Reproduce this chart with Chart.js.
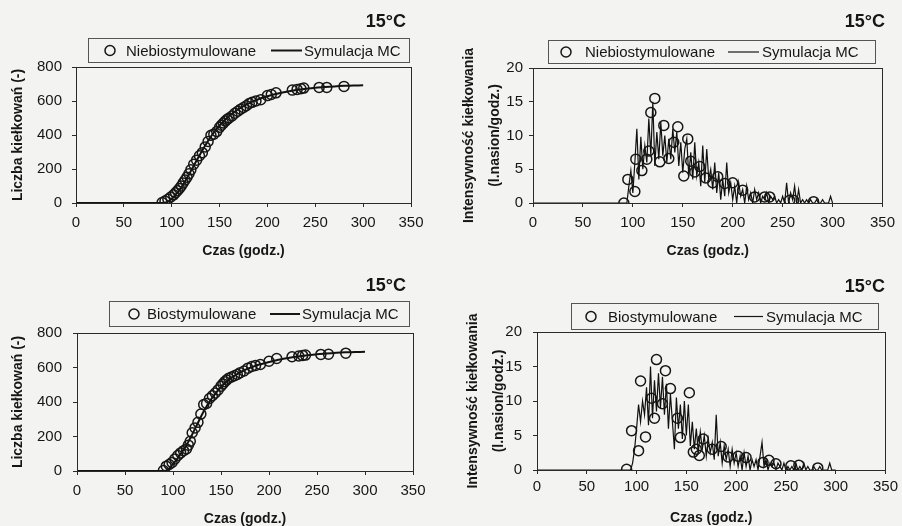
<!DOCTYPE html>
<html>
<head>
<meta charset="utf-8">
<script src="https://cdn.jsdelivr.net/npm/chart.js@4.4.1/dist/chart.umd.min.js"></script>
<style>
  html, body { margin: 0; padding: 0; background: #f3f3f1; }
  #wrap { position: relative; width: 902px; height: 526px; overflow: hidden; }
  .panel { position: absolute; width: 451px; height: 263px; }
</style>
</head>
<body>
<div id="wrap">
  <div class="panel" style="left:0;top:0"><canvas id="c1" width="451" height="263"></canvas></div>
  <div class="panel" style="left:451px;top:0"><canvas id="c2" width="451" height="263"></canvas></div>
  <div class="panel" style="left:0;top:263px"><canvas id="c3" width="451" height="263"></canvas></div>
  <div class="panel" style="left:451px;top:263px"><canvas id="c4" width="451" height="263"></canvas></div>
</div>
<script>
// ---- data ----
const xTicks = [0, 50, 100, 150, 200, 250, 300, 350];

// cumulative germination, observed
const obsNieTimes = [90, 93, 96, 99, 102, 104, 106, 108, 110, 112, 114, 116, 118, 120, 123, 126, 129, 132, 135, 138,
  141, 144, 147, 150, 152, 154, 156, 158, 160, 163, 166, 169, 172, 175, 178, 181, 184, 188, 193, 200,
  204, 209, 226, 231, 235, 238, 254, 262, 280];
const obsNieCount = [3, 12, 22, 35, 48, 60, 72, 85, 100, 118, 135, 152, 172, 195, 228, 252, 278, 296, 330, 362,
  398, 405, 420, 445, 458, 470, 482, 492, 500, 512, 528, 540, 552, 562, 572, 585, 592, 600, 608, 632,
  638, 648, 664, 668, 672, 676, 680, 680, 686];
const obsBioTimes = [90, 93, 96, 99, 102, 105, 108, 111, 114, 116, 118, 120, 123, 126, 129, 132, 135, 138, 141, 144,
  147, 150, 152, 154, 156, 158, 161, 164, 167, 170, 174, 178, 182, 186, 191, 200, 208, 224, 231, 235,
  238, 254, 262, 280];
const obsBioCount = [3, 28, 38, 50, 70, 90, 105, 118, 128, 150, 172, 222, 250, 282, 330, 385, 392, 420, 436, 452,
  470, 492, 505, 518, 528, 538, 545, 552, 560, 570, 580, 596, 606, 612, 618, 636, 652, 662, 667, 670,
  672, 676, 677, 683];

// cumulative germination, MC simulation
const mcCumTimes = [0, 90, 95, 100, 105, 110, 115, 120, 125, 130, 135, 140, 145, 150, 155, 160, 165, 170, 175, 180,
  185, 190, 195, 200, 210, 220, 230, 240, 250, 260, 270, 280, 290, 300];
const mcCumNie = [0, 0, 5, 25, 55, 92, 138, 188, 240, 290, 338, 383, 422, 456, 486, 512, 534, 553, 570, 585,
  598, 609, 619, 628, 643, 655, 665, 672, 678, 682, 686, 689, 691, 692];
const mcCumBio = [0, 0, 10, 40, 75, 115, 160, 212, 268, 325, 375, 418, 455, 487, 514, 537, 556, 572, 586, 598,
  608, 617, 625, 632, 645, 655, 664, 671, 677, 681, 685, 688, 690, 691];

// germination rate, observed
const obsNieRateTimes = [91, 95, 102, 103, 109, 114, 116, 118, 122, 127, 131, 136, 141, 145, 151, 155, 158, 162, 167, 173,
  180, 185, 192, 200, 210, 222, 232, 237, 257, 261, 281];
const obsNieRate = [0, 3.5, 1.7, 6.5, 4.8, 6.5, 7.7, 13.4, 15.5, 6.1, 11.5, 6.6, 9.0, 11.3, 4.0, 9.5, 6.2, 4.6, 5.4, 3.7,
  3.0, 3.9, 2.9, 3.0, 1.9, 0.9, 0.9, 0.9, 0.4, 0.4, 0.2];
const obsBioRateTimes = [90, 95, 102, 104, 109, 115, 118, 120, 126, 129, 134, 141, 144, 153, 157, 160, 163, 167, 176, 185,
  192, 202, 210, 227, 233, 240, 255, 263, 282];
const obsBioRate = [0.1, 5.7, 2.8, 12.9, 4.8, 10.4, 7.5, 16.0, 9.6, 14.4, 11.8, 7.5, 4.7, 11.2, 2.6, 3.0, 2.1, 4.5, 3.0, 3.4,
  1.9, 2.0, 1.8, 1.1, 1.4, 0.9, 0.6, 0.7, 0.3];

// germination rate, MC simulation
const mcRateTimes = [0,
  90, 92, 94, 96, 98, 100, 102, 104, 106, 108,
  110, 112, 114, 116, 118, 120, 122, 124, 126, 128,
  130, 132, 134, 136, 138, 140, 142, 144, 146, 148,
  150, 152, 154, 156, 158, 160, 162, 164, 166, 168,
  170, 172, 174, 176, 178, 180, 182, 184, 186, 188,
  190, 192, 194, 196, 198, 200, 202, 204, 206, 208,
  210, 212, 214, 216, 218, 220, 222, 224, 226, 228,
  230, 232, 234, 236, 238, 240, 242, 244, 246, 248,
  250, 252, 254, 256, 258, 260, 262, 264, 266, 268,
  270, 272, 274, 276, 278, 280, 282, 284, 286, 288,
  290, 292, 294, 296, 298, 300];
const mcRateNie = [0,
  0, 0, 0, 2.5, 4.8, 1.5, 6.0, 11.0, 3.5, 9.8,
  5.0, 8.5, 6.0, 12.5, 7.0, 15.0, 5.5, 10.5, 6.5, 12.0,
  7.0, 10.0, 6.0, 9.5, 6.5, 11.0, 7.5, 10.5, 5.5, 9.0,
  4.5, 8.0, 9.5, 4.0, 7.5, 3.5, 9.0, 4.0, 6.0, 2.5,
  8.5, 3.0, 8.0, 3.5, 5.0, 2.0, 6.0, 1.5, 4.5, 0.5,
  3.5, 1.0, 6.0, 1.5, 3.0, 0.5, 2.5, 0.0, 3.0, 1.0,
  2.0, 0.0, 2.5, 0.5, 1.5, 0.0, 2.0, 0.5, 1.5, 0.0,
  1.0, 0.5, 1.5, 0.0, 1.0, 0.5, 1.0, 0.0, 0.5, 0.0,
  1.0, 0.0, 3.0, 0.0, 1.5, 0.5, 2.5, 0.0, 2.0, 0.0,
  0.5, 0.0, 0.5, 0.0, 0.5, 0.0, 0.0, 0.5, 0.0, 0.0,
  0.5, 0.0, 0.0, 0.0, 1.0, 0.0];
const mcRateBio = [0,
  0, 0, 0, 1.0, 3.0, 6.0, 9.5, 7.0, 10.0, 8.0,
  12.0, 6.5, 15.0, 7.5, 13.0, 8.5, 14.0, 9.0, 13.5, 8.0,
  12.5, 6.0, 11.0, 7.0, 3.0, 10.5, 6.0, 9.5, 4.5, 10.0,
  5.0, 9.5, 3.5, 7.0, 3.0, 6.0, 2.5, 5.5, 3.0, 5.0,
  2.0, 4.5, 2.5, 4.0, 1.5, 8.0, 2.0, 4.0, 1.0, 3.5,
  1.5, 3.0, 0.5, 3.0, 1.0, 2.5, 0.5, 2.0, 0.0, 2.5,
  0.5, 2.0, 0.0, 1.5, 0.5, 1.5, 0.0, 2.0, 4.0, 0.5,
  1.5, 0.0, 1.0, 0.5, 1.0, 0.0, 1.0, 0.5, 0.0, 1.0,
  0.0, 0.5, 0.0, 0.5, 0.0, 1.0, 0.0, 0.5, 0.0, 1.0,
  0.0, 0.5, 0.0, 0.0, 0.5, 0.0, 0.0, 0.5, 0.0, 0.0,
  0.0, 0.0, 1.0, 0.0, 0.0, 0.0];

const FONT = '"Liberation Sans", Arial, sans-serif';
const INK = '#161616';
const LINE = '#2a2a2a';

Chart.defaults.font.family = FONT;
Chart.defaults.color = INK;

function pts(xs, ys) {
  return xs.map((x, i) => ({ x: x, y: ys[i] }));
}

// frame around plot area, "15°C" label and boxed legend
const panelDecor = {
  id: 'panelDecor',
  afterDraw(chart, args, o) {
    const ctx = chart.ctx;
    const a = chart.chartArea;
    ctx.save();
    ctx.strokeStyle = LINE;
    ctx.lineWidth = 1;
    ctx.strokeRect(Math.round(a.left) + 0.5, Math.round(a.top) + 0.5,
      Math.round(a.right - a.left), Math.round(a.bottom - a.top));

    ctx.fillStyle = INK;
    ctx.font = 'bold 18px ' + FONT;
    ctx.textAlign = 'right';
    ctx.textBaseline = 'middle';
    ctx.fillText(o.title, o.titleRight, o.titleY);

    const L = o.legend;
    ctx.strokeStyle = '#555';
    ctx.strokeRect(L.x + 0.5, L.y + 0.5, L.w, L.h);
    const cy = L.y + L.h / 2 + 0.5;
    ctx.strokeStyle = INK;
    ctx.lineWidth = 1.5;
    ctx.beginPath();
    ctx.arc(L.circleX, cy, 5, 0, Math.PI * 2);
    ctx.stroke();
    ctx.font = '15px ' + FONT;
    ctx.textAlign = 'left';
    ctx.fillText(o.obsLabel, L.text1X, cy + 1);
    ctx.lineWidth = o.mcWidth;
    ctx.beginPath();
    ctx.moveTo(L.lineX0, cy);
    ctx.lineTo(L.lineX1, cy);
    ctx.stroke();
    ctx.fillText(o.mcLabel, L.text2X, cy + 1);
    ctx.restore();
  }
};

function makePanel(id, p) {
  const W = 451, H = 263;
  const ctx = document.getElementById(id).getContext('2d');
  return new Chart(ctx, {
    type: 'scatter',
    data: {
      datasets: [
        {
          label: p.obsLabel,
          data: pts(p.obsT, p.obsV),
          showLine: false,
          pointStyle: 'circle',
          pointRadius: 5,
          borderWidth: 1.5,
          borderColor: INK,
          backgroundColor: 'rgba(0,0,0,0)',
          order: 0
        },
        {
          label: 'Symulacja MC',
          data: pts(p.mcT, p.mcV),
          showLine: true,
          pointRadius: 0,
          borderWidth: p.mcWidth,
          borderColor: '#111',
          tension: p.tension,
          order: 1
        }
      ]
    },
    options: {
      responsive: false,
      animation: false,
      events: [],
      layout: {
        padding: { left: 0, top: p.area.top, right: W - p.area.right, bottom: 0 }
      },
      plugins: {
        legend: { display: false },
        tooltip: { enabled: false },
        panelDecor: {
          title: '15°C',
          titleRight: p.titleRight,
          titleY: p.titleY,
          obsLabel: p.obsLabel,
          mcLabel: 'Symulacja MC',
          mcWidth: p.mcWidth,
          legend: p.legend
        }
      },
      scales: {
        x: {
          type: 'linear',
          min: 0,
          max: 350,
          afterBuildTicks: (s) => { s.ticks = xTicks.map(v => ({ value: v })); },
          ticks: { font: { size: 15 }, padding: p.xTickPad, color: INK, maxRotation: 0 },
          grid: { drawOnChartArea: false, tickLength: 4, color: LINE },
          border: { color: LINE, width: 1 },
          title: {
            display: true,
            text: 'Czas (godz.)',
            font: { size: 14, weight: 'bold', lineHeight: 1 },
            padding: { top: 0, bottom: p.xTitlePad },
            color: INK
          },
          afterFit: (s) => { s.height = H - p.area.bottom; }
        },
        y: {
          min: 0,
          max: p.yMax,
          ticks: { stepSize: p.yStep, font: { size: 15 }, padding: p.yTickPad, color: INK },
          grid: { drawOnChartArea: false, tickLength: 4, color: LINE },
          border: { color: LINE, width: 1 },
          title: {
            display: true,
            text: p.yTitle,
            font: { size: 14, weight: 'bold', lineHeight: p.yTitleLH },
            padding: { top: p.yTitlePad, bottom: 0 },
            color: INK
          },
          afterFit: (s) => { s.width = p.area.left; }
        }
      }
    },
    plugins: [panelDecor]
  });
}

const yTitleCount = 'Liczba kiełkowań (-)';
const yTitleRate = ['Intensywność kiełkowania', '(l.nasion/godz.)'];

makePanel('c1', {
  obsT: obsNieTimes, obsV: obsNieCount, mcT: mcCumTimes, mcV: mcCumNie,
  obsLabel: 'Niebiostymulowane', mcWidth: 2, tension: 0.25,
  yMax: 800, yStep: 200, yTitle: yTitleCount, yTitleLH: 1.2, yTitlePad: 10,
  area: { left: 76, top: 67, right: 411, bottom: 203 },
  yTickPad: 10, xTickPad: 7, xTitlePad: 5,
  titleRight: 406, titleY: 22,
  legend: { x: 88, y: 38, w: 321, h: 24, circleX: 110, text1X: 126, lineX0: 271, lineX1: 302, text2X: 304 }
});

makePanel('c2', {
  obsT: obsNieRateTimes, obsV: obsNieRate, mcT: mcRateTimes, mcV: mcRateNie,
  obsLabel: 'Niebiostymulowane', mcWidth: 1.2, tension: 0,
  yMax: 20, yStep: 5, yTitle: yTitleRate, yTitleLH: 1.85, yTitlePad: 5,
  area: { left: 82, top: 68, right: 433, bottom: 203 },
  yTickPad: 6, xTickPad: 7, xTitlePad: 5,
  titleRight: 434, titleY: 22,
  legend: { x: 97, y: 40, w: 327, h: 23, circleX: 115, text1X: 134, lineX0: 277, lineX1: 308, text2X: 311 }
});

makePanel('c3', {
  obsT: obsBioTimes, obsV: obsBioCount, mcT: mcCumTimes, mcV: mcCumBio,
  obsLabel: 'Biostymulowane', mcWidth: 2, tension: 0.25,
  yMax: 800, yStep: 200, yTitle: yTitleCount, yTitleLH: 1.2, yTitlePad: 10,
  area: { left: 77, top: 70, right: 413, bottom: 208 },
  yTickPad: 11, xTickPad: 7, xTitlePad: 0,
  titleRight: 406, titleY: 23,
  legend: { x: 109, y: 38, w: 300, h: 25, circleX: 134, text1X: 147, lineX0: 270, lineX1: 300, text2X: 302 }
});

makePanel('c4', {
  obsT: obsBioRateTimes, obsV: obsBioRate, mcT: mcRateTimes, mcV: mcRateBio,
  obsLabel: 'Biostymulowane', mcWidth: 1.2, tension: 0,
  yMax: 20, yStep: 5, yTitle: yTitleRate, yTitleLH: 1.8, yTitlePad: 10,
  area: { left: 86, top: 69, right: 435, bottom: 207 },
  yTickPad: 11, xTickPad: 4, xTitlePad: 1,
  titleRight: 434, titleY: 24,
  legend: { x: 120, y: 40, w: 307, h: 26, circleX: 140, text1X: 157, lineX0: 283, lineX1: 312, text2X: 315 }
});
</script>
</body>
</html>
